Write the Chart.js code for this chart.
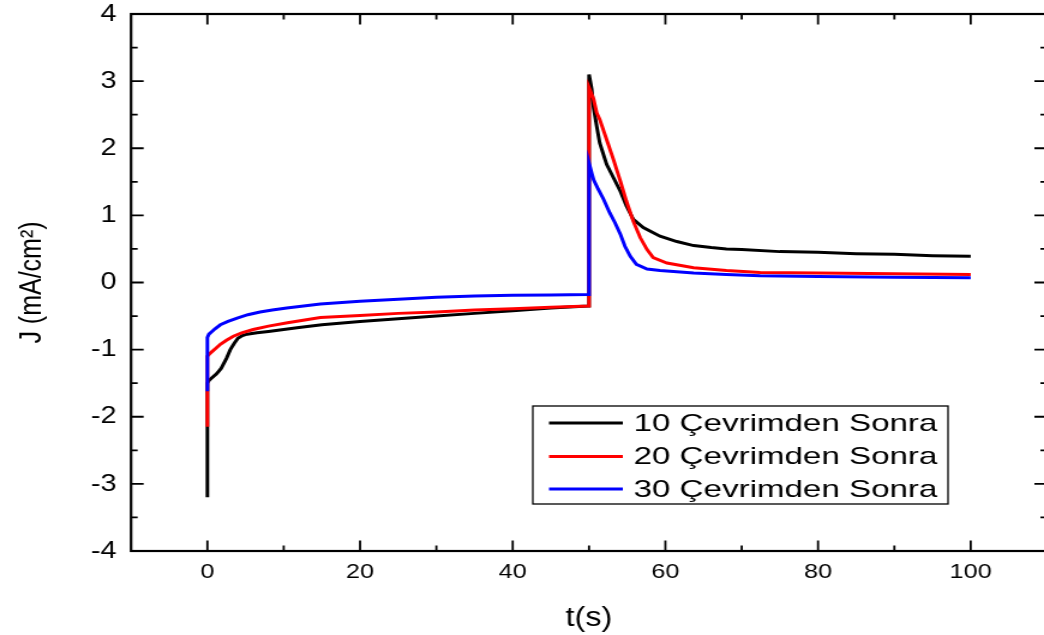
<!DOCTYPE html>
<html lang="tr">
<head>
  <meta charset="UTF-8">
  <title>J – t Eğrileri</title>
  <script src="https://cdn.jsdelivr.net/npm/chart.js"></script>
  <style>
    html, body {
      margin: 0;
      padding: 0;
      background: #fff;
      overflow: hidden;
    }

    /* the original picture is stretched sideways, so the canvas is too */
    .wrap {
      width: 880px;
      height: 635px;
      transform: scaleX(1.2);
      transform-origin: 0 0;
    }
  </style>
</head>
<body>

<div class="wrap">
  <canvas id="jChart" width="880" height="635"></canvas>
</div>

<script>
  // --- data ---
  const labels = ['10 Çevrimden Sonra', '20 Çevrimden Sonra', '30 Çevrimden Sonra'];

  const t10 = [0, 0, 0.2, 0.6, 1.2, 1.8, 2.5, 3, 3.5, 4, 4.6, 5.2, 6.5, 8, 10, 12, 15, 20, 25, 30,
               35, 40, 45, 49.9, 50, 50.35, 50.6, 51, 51.4, 52.3, 53.2, 54.1, 54.9, 55.8, 57.1, 59.3,
               61.5, 63.7, 66, 68, 70, 75, 80, 85, 90, 95, 100];
  const j10 = [-3.2, -1.5, -1.46, -1.42, -1.36, -1.28, -1.13, -1.0, -0.91, -0.83, -0.79, -0.77, -0.75, -0.73, -0.70, -0.67, -0.63, -0.58, -0.54, -0.50,
               -0.46, -0.42, -0.38, -0.35, 3.10, 2.88, 2.60, 2.33, 2.08, 1.76, 1.56, 1.36, 1.14, 0.94, 0.82, 0.69,
               0.61, 0.55, 0.52, 0.50, 0.49, 0.46, 0.45, 0.43, 0.42, 0.40, 0.39];

  const t20 = [0, 0, 0.3, 0.6, 1, 1.7, 2.5, 3.4, 4.5, 6, 8, 10.5, 14.8, 20, 25, 30, 35, 40, 45, 49.9,
               50, 50.6, 51, 51.4, 52.3, 53.2, 54.1, 54.9, 55.8, 56.7, 57.6, 58.4, 60.2, 63.7, 68, 72.4, 80, 90, 100];
  const j20 = [-2.15, -1.10, -1.06, -1.03, -0.99, -0.92, -0.86, -0.80, -0.75, -0.70, -0.65, -0.60, -0.52, -0.49, -0.46, -0.44, -0.41, -0.39, -0.37, -0.35,
               2.90, 2.73, 2.53, 2.43, 2.13, 1.83, 1.51, 1.21, 0.91, 0.67, 0.49, 0.37, 0.29, 0.22, 0.18, 0.15, 0.14, 0.13, 0.12];

  const t30 = [0, 0, 0.2, 0.6, 1, 1.7, 2.7, 3.9, 5.3, 6.9, 8.5, 10.4, 14.8, 20, 25, 30, 35, 40, 45, 49.9,
               50, 50.35, 50.6, 51.2, 51.9, 52.7, 53.4, 54.1, 54.7, 55.4, 56.2, 57.6, 59.3, 63.7, 68, 72.4, 80, 90, 100];
  const j30 = [-1.62, -0.82, -0.77, -0.73, -0.69, -0.63, -0.58, -0.53, -0.48, -0.44, -0.41, -0.38, -0.32, -0.28, -0.25, -0.22, -0.20, -0.19, -0.185, -0.18,
               1.78, 1.63, 1.53, 1.39, 1.24, 1.04, 0.89, 0.72, 0.54, 0.39, 0.27, 0.20, 0.18, 0.14, 0.12, 0.10, 0.09, 0.08, 0.07];

  const xTicks = [0, 20, 40, 60, 80, 100];
  const yTicks = [-4, -3, -2, -1, 0, 1, 2, 3, 4];

  const FONT = "'Liberation Sans', Arial, sans-serif";
  const pts = (ts, js) => ts.map((t, i) => ({ x: t, y: js[i] }));

  // Origin-style frame: box all round, ticks pointing inwards on all four sides
  const framePlugin = {
    id: 'frame',
    afterDatasetsDraw(chart) {
      const { ctx, chartArea: a, scales: { x, y } } = chart;
      ctx.save();
      ctx.strokeStyle = '#000';
      ctx.lineWidth = 2.2;
      ctx.strokeRect(a.left, a.top, a.right - a.left, a.bottom - a.top);

      ctx.lineWidth = 1.8;
      ctx.beginPath();
      const xTick = (v, len) => {
        const p = x.getPixelForValue(v);
        ctx.moveTo(p, a.bottom); ctx.lineTo(p, a.bottom - len);
        ctx.moveTo(p, a.top);    ctx.lineTo(p, a.top + len);
      };
      const yTick = (v, len) => {
        const p = y.getPixelForValue(v);
        ctx.moveTo(a.left, p);  ctx.lineTo(a.left + len, p);
        ctx.moveTo(a.right, p); ctx.lineTo(a.right - len, p);
      };
      xTicks.forEach(v => xTick(v, 10.5));
      xTicks.slice(0, -1).forEach(v => xTick(v + 10, 5.5));
      yTicks.forEach(v => yTick(v, 10.5));
      yTicks.slice(0, -1).forEach(v => yTick(v + 0.5, 5.5));
      ctx.stroke();
      ctx.restore();
    }
  };

  // boxed legend inside the plot, lower right
  const legendPlugin = {
    id: 'boxLegend',
    afterDraw(chart) {
      const { ctx } = chart;
      const box = { x: 444, y: 406, w: 346, h: 98 };
      const rows = [423, 456.5, 489];
      ctx.save();
      ctx.fillStyle = '#fff';
      ctx.fillRect(box.x, box.y, box.w, box.h);
      ctx.strokeStyle = '#000';
      ctx.lineWidth = 1.3;
      ctx.strokeRect(box.x, box.y, box.w, box.h);

      chart.data.datasets.forEach((ds, i) => {
        const yy = rows[i];
        ctx.strokeStyle = ds.borderColor;
        ctx.lineWidth = 2.8;
        ctx.beginPath();
        ctx.moveTo(457.5, yy);
        ctx.lineTo(519, yy);
        ctx.stroke();

        ctx.save();
        ctx.translate(528, yy);
        ctx.scale(1.15, 1);
        ctx.fillStyle = '#000';
        ctx.font = '24px ' + FONT;
        ctx.textBaseline = 'middle';
        ctx.fillText(ds.label, 0, 1);
        ctx.restore();
      });
      ctx.restore();
    }
  };

  const ctx = document.getElementById('jChart').getContext('2d');

  new Chart(ctx, {
    type: 'scatter',
    data: {
      datasets: [
        { label: labels[0], data: pts(t10, j10), borderColor: '#000000', order: 3 },
        { label: labels[1], data: pts(t20, j20), borderColor: '#ff0000', order: 2 },
        { label: labels[2], data: pts(t30, j30), borderColor: '#0000ff', order: 1 }
      ]
    },
    options: {
      responsive: false,
      animation: false,
      showLine: true,
      elements: {
        point: { radius: 0, hoverRadius: 0 },
        line: { borderWidth: 3, tension: 0, fill: false }
      },
      layout: {
        padding: { left: 0, top: 14, right: 7.5, bottom: 0 }
      },
      scales: {
        x: {
          type: 'linear',
          min: -10,
          max: 110,
          afterBuildTicks: s => { s.ticks = xTicks.map(v => ({ value: v })); },
          afterFit: s => { s.height = 84; s.paddingLeft = 0; s.paddingRight = 0; },
          grid: { display: false, drawTicks: false, tickLength: 0 },
          border: { display: false },
          ticks: {
            color: '#000',
            padding: 9,
            maxRotation: 0,
            autoSkip: false,
            font: { family: FONT, size: 21 }
          },
          title: {
            display: true,
            text: 't(s)',
            color: '#000',
            padding: { top: 0, bottom: 0 },
            font: { family: FONT, size: 27 }
          }
        },
        y: {
          min: -4,
          max: 4,
          afterBuildTicks: s => { s.ticks = yTicks.map(v => ({ value: v })); },
          afterFit: s => { s.width = 109.2; s.paddingTop = 0; s.paddingBottom = 0; },
          grid: { display: false, drawTicks: false, tickLength: 0 },
          border: { display: false },
          ticks: {
            color: '#000',
            padding: 12,
            autoSkip: false,
            font: { family: FONT, size: 24 }
          },
          title: {
            display: true,
            text: 'J (mA/cm²)',
            color: '#000',
            padding: { top: 12.5, bottom: 0 },
            font: { family: FONT, size: 25 }
          }
        }
      },
      plugins: {
        legend: { display: false },
        tooltip: { enabled: false }
      }
    },
    plugins: [framePlugin, legendPlugin]
  });
</script>

</body>
</html>
